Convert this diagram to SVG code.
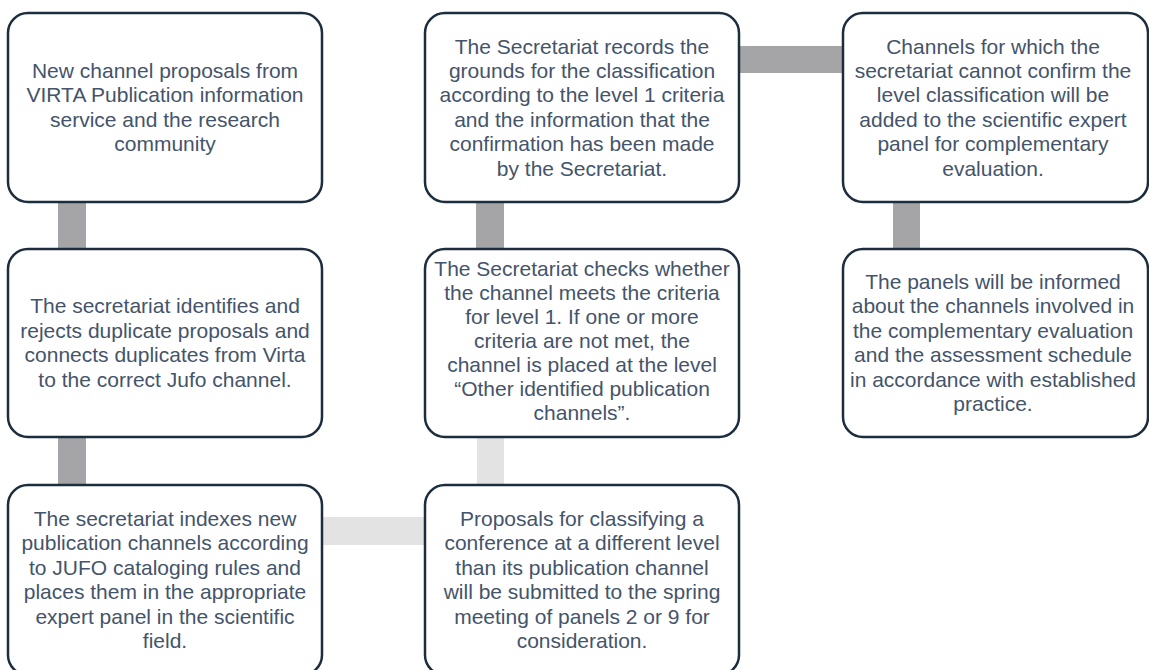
<svg xmlns="http://www.w3.org/2000/svg" width="1149" height="670" viewBox="0 0 1149 670">
<style>
.box{fill:#ffffff;stroke:#1c2d3e;stroke-width:2.5}
.dark{fill:#a5a5a8}
.light{fill:#e3e3e3}
.t{font-family:"Liberation Sans",Arial,sans-serif;font-size:21px;fill:#44546a;text-anchor:middle}
</style>
<rect width="1149" height="670" fill="#ffffff"/>
<g id="connectors">
<rect class="dark" x="58" y="200" width="28" height="51"/>
<rect class="dark" x="58" y="435" width="28" height="52"/>
<rect class="dark" x="476" y="200" width="28" height="51"/>
<rect class="light" x="477" y="435" width="27" height="52"/>
<rect class="light" x="320" y="517" width="107" height="28"/>
<rect class="dark" x="737" y="46" width="108" height="27"/>
<rect class="dark" x="893" y="200" width="27" height="51"/>
</g>
<g id="n1">
<rect class="box" x="8" y="13" width="314" height="189" rx="20"/>
<text class="t"><tspan x="165" y="78">New channel proposals from</tspan><tspan x="165" y="102.4">VIRTA Publication information</tspan><tspan x="165" y="126.8">service and the research</tspan><tspan x="165" y="151.2">community</tspan></text>
</g>
<g id="n2">
<rect class="box" x="8" y="249" width="314" height="188" rx="20"/>
<text class="t"><tspan x="165" y="313.4">The secretariat identifies and</tspan><tspan x="165" y="337.8">rejects duplicate proposals and</tspan><tspan x="165" y="362.2">connects duplicates from Virta</tspan><tspan x="165" y="386.6">to the correct Jufo channel.</tspan></text>
</g>
<g id="n3">
<rect class="box" x="8" y="485" width="314" height="190" rx="20"/>
<text class="t"><tspan x="165" y="526">The secretariat indexes new</tspan><tspan x="165" y="550.4">publication channels according</tspan><tspan x="165" y="574.8">to JUFO cataloging rules and</tspan><tspan x="165" y="599.2">places them in the appropriate</tspan><tspan x="165" y="623.6">expert panel in the scientific</tspan><tspan x="165" y="648">field.</tspan></text>
</g>
<g id="n4">
<rect class="box" x="425" y="13" width="314" height="189" rx="20"/>
<text class="t"><tspan x="582" y="53.5">The Secretariat records the</tspan><tspan x="582" y="77.9">grounds for the classification</tspan><tspan x="582" y="102.3">according to the level 1 criteria</tspan><tspan x="582" y="126.7">and the information that the</tspan><tspan x="582" y="151.1">confirmation has been made</tspan><tspan x="582" y="175.5">by the Secretariat.</tspan></text>
</g>
<g id="n5">
<rect class="box" x="425" y="249" width="314" height="188" rx="20"/>
<text class="t"><tspan x="582" y="276">The Secretariat checks whether</tspan><tspan x="582" y="300">the channel meets the criteria</tspan><tspan x="582" y="324">for level 1. If one or more</tspan><tspan x="582" y="348">criteria are not met, the</tspan><tspan x="582" y="372">channel is placed at the level</tspan><tspan x="582" y="396">“Other identified publication</tspan><tspan x="582" y="420">channels”.</tspan></text>
</g>
<g id="n6">
<rect class="box" x="843" y="13" width="305" height="189" rx="20"/>
<text class="t"><tspan x="993" y="53.5">Channels for which the</tspan><tspan x="993" y="77.9">secretariat cannot confirm the</tspan><tspan x="993" y="102.3">level classification will be</tspan><tspan x="993" y="126.7">added to the scientific expert</tspan><tspan x="993" y="151.1">panel for complementary</tspan><tspan x="993" y="175.5">evaluation.</tspan></text>
</g>
<g id="n7">
<rect class="box" x="843" y="249" width="305" height="188" rx="20"/>
<text class="t"><tspan x="993" y="289">The panels will be informed</tspan><tspan x="993" y="313.4">about the channels involved in</tspan><tspan x="993" y="337.8">the complementary evaluation</tspan><tspan x="993" y="362.2">and the assessment schedule</tspan><tspan x="993" y="386.6">in accordance with established</tspan><tspan x="993" y="411">practice.</tspan></text>
</g>
<g id="n8">
<rect class="box" x="425" y="485" width="314" height="190" rx="20"/>
<text class="t"><tspan x="582" y="526">Proposals for classifying a</tspan><tspan x="582" y="550.4">conference at a different level</tspan><tspan x="582" y="574.8">than its publication channel</tspan><tspan x="582" y="599.2">will be submitted to the spring</tspan><tspan x="582" y="623.6">meeting of panels 2 or 9 for</tspan><tspan x="582" y="648">consideration.</tspan></text>
</g>
</svg>
